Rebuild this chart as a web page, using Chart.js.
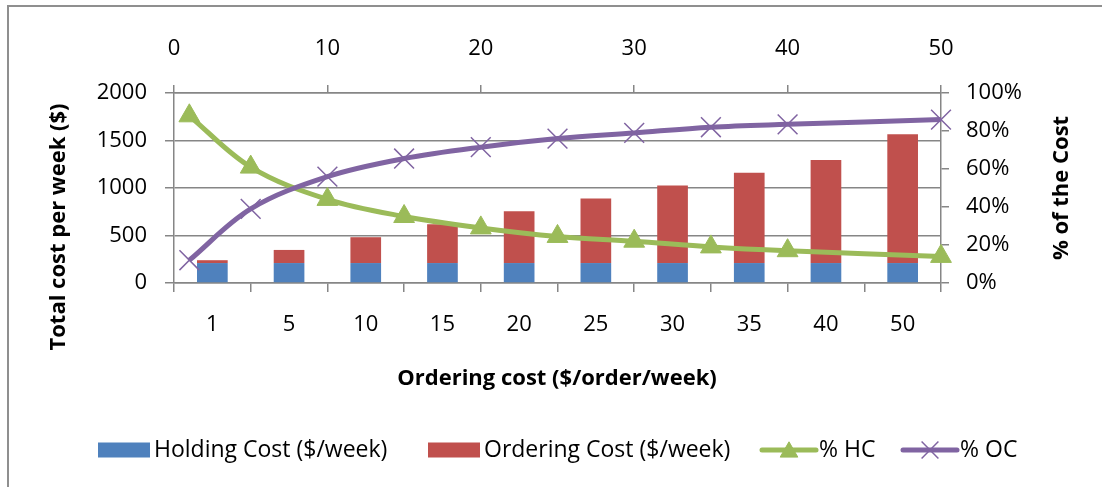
<!DOCTYPE html>
<html>
<head>
<meta charset="utf-8">
<script src="https://cdn.jsdelivr.net/npm/chart.js@4/dist/chart.umd.min.js"></script>
<style>
  html, body { margin: 0; padding: 0; background: #fff; }
  #wrap { position: relative; width: 1102px; height: 487px; }
</style>
</head>
<body>
<div id="wrap"><canvas id="c" width="1102" height="487"></canvas></div>
<script>
// Ordering cost levels ($/order/week)
const categories = ['1', '5', '10', '15', '20', '25', '30', '35', '40', '50'];
const orderingCostLevels = [1, 5, 10, 15, 20, 25, 30, 35, 40, 50];

// Weekly costs ($/week)
const holdingCost = [210, 210, 210, 210, 210, 210, 210, 210, 210, 210];
const orderingCost = [30, 138, 272, 408, 544, 680, 816, 950, 1085, 1355];

// Share of total cost (%)
const pctHC = [88, 61, 44, 35, 29, 24.5, 22, 19, 17, 14];
const pctOC = [12, 39, 56, 65.5, 71.5, 76, 79, 82, 83.5, 86];

// Axis tick values
const costTicks = [0, 500, 1000, 1500, 2000];
const pctTicks = [0, 20, 40, 60, 80, 100];
const topTicks = [0, 10, 20, 30, 40, 50];

const BLUE = '#4F81BD', RED = '#C0504D', GREEN = '#9BBB59', PURPLE = '#8064A2';
const AXIS = '#868686';
const FONT = '"Open Sans"';
const tickFont = { family: FONT, size: 22 };

const W = 1102, H = 487;
const PLOT = { left: 174, right: 941, top: 93, bottom: 283 };

const toPoints = (xs, ys) => xs.map((x, i) => ({ x: x, y: ys[i] }));

const greenPoint = { pointStyle: 'triangle', radius: 12, backgroundColor: GREEN, borderColor: GREEN, borderWidth: 1 };
const purplePoint = { pointStyle: 'crossRot', radius: 14, backgroundColor: PURPLE, borderColor: PURPLE, borderWidth: 1.5 };

const decor = {
  id: 'decor',
  beforeDraw(chart) {
    const ctx = chart.ctx;
    ctx.save();
    ctx.fillStyle = '#fff';
    ctx.fillRect(0, 0, W, H);
    ctx.strokeStyle = '#8f8f8f';
    ctx.lineWidth = 2;
    ctx.beginPath();
    ctx.moveTo(8, H + 5);
    ctx.lineTo(8, 6);
    ctx.lineTo(W + 5, 6);
    ctx.stroke();
    ctx.restore();
  },
  afterDraw(chart) {
    const ctx = chart.ctx;
    ctx.save();
    ctx.fillStyle = '#000';
    ctx.textBaseline = 'middle';
    ctx.textAlign = 'center';
    ctx.font = 'bold 22px ' + FONT;
    // axis titles
    ctx.fillText('Ordering cost ($/order/week)', 557, 379);
    ctx.save();
    ctx.translate(59, 227);
    ctx.rotate(-Math.PI / 2);
    ctx.fillText('Total cost per week ($)', 0, 0);
    ctx.restore();
    ctx.save();
    ctx.translate(1062, 188);
    ctx.rotate(-Math.PI / 2);
    ctx.fillText('% of the Cost', 0, 0);
    ctx.restore();

    // legend
    const ly = 450;
    ctx.font = '23px ' + FONT;
    ctx.textAlign = 'left';
    const ds = chart.data.datasets;
    // bar swatches
    [[98, 0], [428, 1]].forEach(([x, i]) => {
      ctx.fillStyle = ds[i].backgroundColor;
      ctx.fillRect(x, ly - 7.5, 52, 15);
      ctx.fillStyle = '#000';
      ctx.fillText(ds[i].label, x + 56, ly);
    });
    // line swatches
    [[762, 2, greenPoint], [903, 3, purplePoint]].forEach(([x, i, pt]) => {
      ctx.strokeStyle = ds[i].borderColor;
      ctx.lineWidth = 5;
      ctx.lineCap = 'round';
      ctx.beginPath();
      ctx.moveTo(x, ly);
      ctx.lineTo(x + 54, ly);
      ctx.stroke();
      ctx.fillStyle = pt.backgroundColor;
      ctx.strokeStyle = pt.borderColor;
      ctx.lineWidth = pt.borderWidth;
      ctx.lineCap = 'butt';
      Chart.helpers.drawPoint(ctx, { pointStyle: pt.pointStyle, radius: pt.radius * 0.85, rotation: 0, borderWidth: pt.borderWidth }, x + 27, ly + (i === 2 ? 2 : 0));
      ctx.fillStyle = '#000';
      ctx.fillText(ds[i].label, x + 57, ly);
    });
    ctx.restore();
  }
};

new Chart(document.getElementById('c'), {
  type: 'bar',
  data: {
    labels: categories,
    datasets: [
      { label: 'Holding Cost ($/week)', data: holdingCost, backgroundColor: BLUE, stack: 's', order: 2, grouped: false,
        xAxisID: 'x', yAxisID: 'y', categoryPercentage: 1, barPercentage: 0.4 },
      { label: 'Ordering Cost ($/week)', data: orderingCost, backgroundColor: RED, stack: 's', order: 2, grouped: false,
        xAxisID: 'x', yAxisID: 'y', categoryPercentage: 1, barPercentage: 0.4 },
      { type: 'line', label: '% HC', data: toPoints(orderingCostLevels, pctHC), order: 1,
        xAxisID: 'x2', yAxisID: 'y2', borderColor: GREEN, borderWidth: 5, tension: 0.35, clip: false,
        pointStyle: greenPoint.pointStyle, pointRadius: greenPoint.radius, pointBackgroundColor: GREEN,
        pointBorderColor: GREEN, pointBorderWidth: greenPoint.borderWidth },
      { type: 'line', label: '% OC', data: toPoints(orderingCostLevels, pctOC), order: 0,
        xAxisID: 'x2', yAxisID: 'y2', borderColor: PURPLE, borderWidth: 5, tension: 0.35, clip: false,
        pointStyle: purplePoint.pointStyle, pointRadius: purplePoint.radius, pointBackgroundColor: PURPLE,
        pointBorderColor: PURPLE, pointBorderWidth: purplePoint.borderWidth }
    ]
  },
  options: {
    responsive: false,
    animation: false,
    devicePixelRatio: 1,
    layout: { padding: 0 },
    plugins: { legend: { display: false }, tooltip: { enabled: false } },
    scales: {
      x: {
        type: 'category', position: 'bottom', stacked: true, offset: true,
        grid: { offset: true, drawOnChartArea: false, drawTicks: true, tickLength: 9, color: AXIS, lineWidth: 1.5 },
        border: { display: true, color: AXIS, width: 1.5 },
        ticks: { font: tickFont, color: '#000', padding: 20, autoSkip: false, maxRotation: 0 },
        afterFit: s => { s.height = H - PLOT.bottom; }
      },
      x2: {
        type: 'linear', position: 'top', offset: false, min: topTicks[0], max: topTicks[topTicks.length - 1],
        afterBuildTicks: s => { s.ticks = topTicks.map(v => ({ value: v })); },
        grid: { offset: false, drawOnChartArea: false, drawTicks: true, tickLength: 8, color: AXIS, lineWidth: 1.5 },
        border: { display: true, color: AXIS, width: 1.5 },
        ticks: { font: tickFont, color: '#000', padding: 23, maxRotation: 0, callback: v => String(v) },
        afterFit: s => { s.height = PLOT.top; }
      },
      y: {
        type: 'linear', position: 'left', stacked: true, min: costTicks[0], max: costTicks[costTicks.length - 1],
        afterBuildTicks: s => { s.ticks = costTicks.map(v => ({ value: v })); },
        grid: { drawOnChartArea: true, drawTicks: true, tickLength: 9, color: AXIS, lineWidth: 1.5 },
        border: { display: true, color: AXIS, width: 1.5 },
        ticks: { font: tickFont, color: '#000', padding: 18, callback: v => String(v) },
        afterFit: s => { s.width = PLOT.left; }
      },
      y2: {
        type: 'linear', position: 'right', min: pctTicks[0], max: pctTicks[pctTicks.length - 1],
        afterBuildTicks: s => { s.ticks = pctTicks.map(v => ({ value: v })); },
        grid: { drawOnChartArea: false, drawTicks: true, tickLength: 8, color: AXIS, lineWidth: 1.5 },
        border: { display: true, color: AXIS, width: 1.5 },
        ticks: { font: tickFont, color: '#000', padding: 17, callback: v => v + '%' },
        afterFit: s => { s.width = W - PLOT.right; }
      }
    }
  },
  plugins: [decor]
});
</script>
</body>
</html>
